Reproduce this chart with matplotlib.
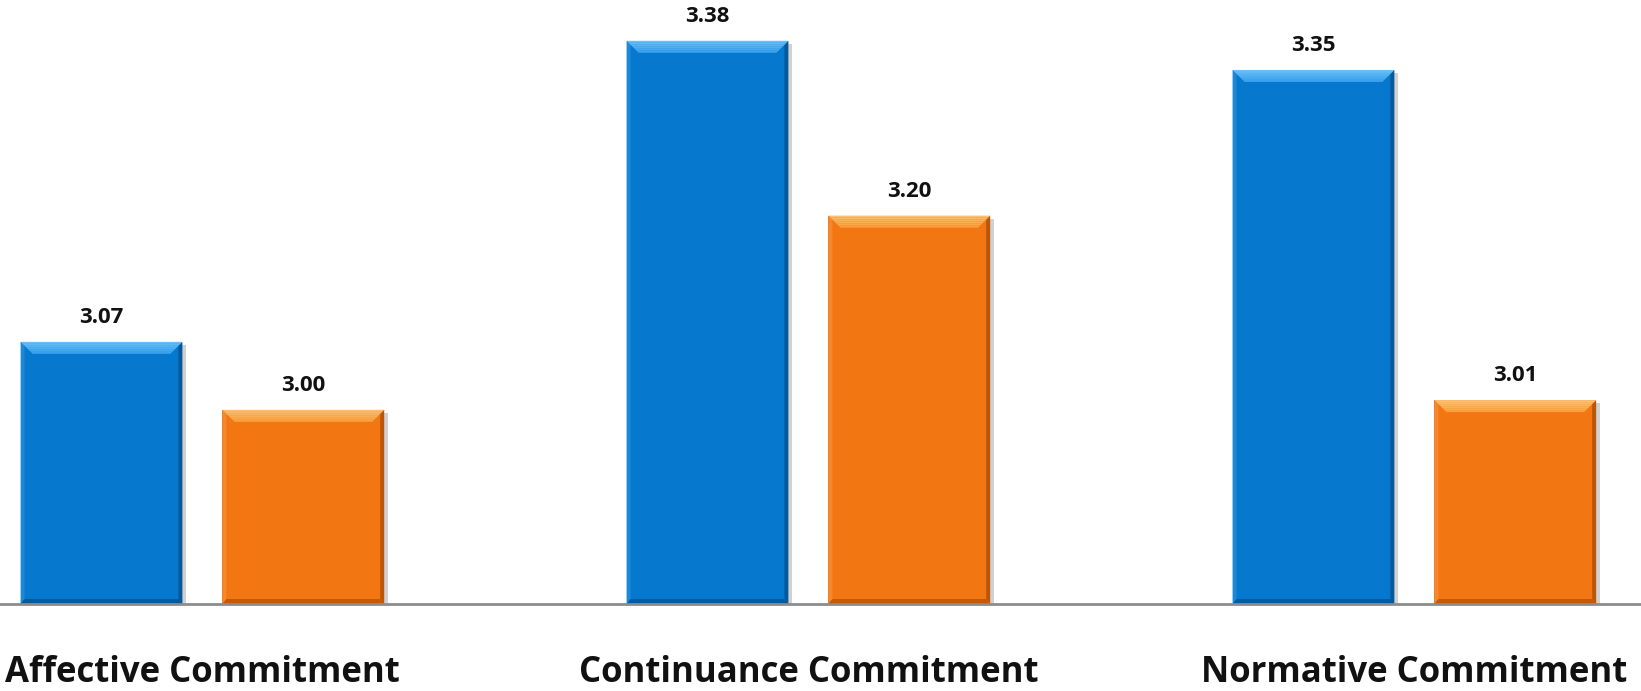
import matplotlib
matplotlib.use("Agg")
import matplotlib.pyplot as plt
from matplotlib.patches import Polygon, Rectangle
import numpy as np

categories = ["Affective Commitment", "Continuance Commitment", "Normative Commitment"]
series_a = [3.07, 3.38, 3.35]
series_b = [3.00, 3.20, 3.01]

plt.rcParams["font.family"] = ["Open Sans", "DejaVu Sans"]

W, H, DPI = 1641, 691, 100
fig = plt.figure(figsize=(W / DPI, H / DPI), dpi=DPI)
ax = fig.add_axes([0, 87 / H, 1, 1 - 87 / H])

x_lo, x_hi = -0.334, 2.374
y_lo, y_hi = 2.80, 3.422
ax.set_xlim(x_lo, x_hi)
ax.set_ylim(y_lo, y_hi)

# data units per display pixel
dx = (x_hi - x_lo) / W
dy = (y_hi - y_lo) / (H - 87)

x = np.arange(len(categories))
width = 0.267
offset = 0.1665

colors = {
    "a": dict(face="#0678CD", top="#3AA3EE", top_hi="#6CC0F7", left="#1C88D8",
              right="#05599A", bottom="#045A9E"),
    "b": dict(face="#F27612", top="#F9A23F", top_hi="#FDC070", left="#F5882C",
              right="#B9560B", bottom="#C25A0C"),
}


def bevel(rect, c):
    x0, y0 = rect.get_x(), rect.get_y()
    w, h = rect.get_width(), rect.get_height()
    x1, y1 = x0 + w, y0 + h
    bt, bs, bb = 12, 4, 5  # bevel sizes in pixels: top, sides, bottom
    # soft drop shadow
    ax.add_patch(Rectangle((x0 + 2 * dx, y0), w + 2 * dx, h - 3 * dy,
                           facecolor="#000000", alpha=0.18, lw=0, zorder=1.5))
    # top bevel, drawn as a few bands for a gentle gradient
    n = 6
    tops = np.linspace(0, bt, n + 1)
    for i in range(n):
        a, b = tops[i], tops[i + 1]
        frac = i / (n - 1)
        col = np.array(matplotlib.colors.to_rgb(c["top_hi"])) * (1 - frac) + \
            np.array(matplotlib.colors.to_rgb(c["top"])) * frac
        ax.add_patch(Polygon([(x0 + a * dx, y1 - a * dy), (x1 - a * dx, y1 - a * dy),
                              (x1 - b * dx, y1 - b * dy), (x0 + b * dx, y1 - b * dy)],
                             closed=True, facecolor=col, lw=0, zorder=3))
    # left edge
    ax.add_patch(Polygon([(x0, y1), (x0 + bs * dx, y1 - bs * dy),
                          (x0 + bs * dx, y0 + bb * dy), (x0, y0)],
                         closed=True, facecolor=c["left"], lw=0, zorder=2.9))
    # right edge
    ax.add_patch(Polygon([(x1, y1), (x1 - bs * dx, y1 - bs * dy),
                          (x1 - bs * dx, y0 + bb * dy), (x1, y0)],
                         closed=True, facecolor=c["right"], lw=0, zorder=2.9))
    # bottom edge
    ax.add_patch(Polygon([(x0, y0), (x0 + bs * dx, y0 + bb * dy),
                          (x1 - bs * dx, y0 + bb * dy), (x1, y0)],
                         closed=True, facecolor=c["bottom"], lw=0, zorder=2.9))


bars_a = ax.bar(x - offset, np.array(series_a) - y_lo, width, bottom=y_lo,
                color=colors["a"]["face"], lw=0, zorder=2)
bars_b = ax.bar(x + offset, np.array(series_b) - y_lo, width, bottom=y_lo,
                color=colors["b"]["face"], lw=0, zorder=2)

for bars, key, vals in ((bars_a, "a", series_a), (bars_b, "b", series_b)):
    for rect, v in zip(bars, vals):
        bevel(rect, colors[key])
        ax.text(rect.get_x() + rect.get_width() / 2, v + 14 * dy, f"{v:.2f}",
                ha="center", va="bottom", fontsize=16, fontweight="bold",
                color="#111111", zorder=4)

ax.set_xticks(x)
ax.set_xticklabels(categories, fontsize=25, fontweight="bold", color="#111111")
ax.tick_params(axis="x", length=0, pad=37)
ax.set_yticks([])
for side in ("top", "left", "right"):
    ax.spines[side].set_visible(False)
ax.spines["bottom"].set_color("#8C8C8C")
ax.spines["bottom"].set_linewidth(2)
ax.spines["bottom"].set_zorder(5)

fig.savefig("out.png", dpi=DPI, facecolor="white")
